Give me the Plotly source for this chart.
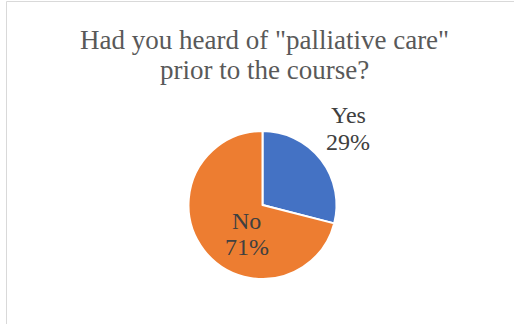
import plotly.graph_objects as go

# Survey responses (percent of respondents)
answers = ["Yes", "No"]
shares = [29, 71]
slice_colors = ["#4472C4", "#ED7D31"]

title_lines = ['Had you heard of "palliative care"', "prior to the course?"]

W, H = 514, 324
SERIF = "Liberation Serif"

fig = go.Figure(
    go.Pie(
        labels=answers,
        values=shares,
        sort=False,
        direction="clockwise",
        rotation=0,
        marker=dict(colors=slice_colors, line=dict(color="white", width=2)),
        textinfo="none",
        showlegend=False,
        hoverinfo="label+percent",
        domain=dict(x=[188.5 / W, 336.5 / W], y=[(H - 279) / H, (H - 131) / H]),
    )
)


def px(x, y):
    """Pixel position (from top-left) to paper coordinates."""
    return x / W, 1 - y / H


annotations = []

# Chart title, one annotation per line
for text, y in zip(title_lines, [40, 70]):
    ax, ay = px(264, y)
    annotations.append(dict(
        text=text, x=ax, y=ay, xref="paper", yref="paper",
        xanchor="center", yanchor="middle", showarrow=False,
        font=dict(family=SERIF, size=27, color="#595959"),
    ))

# Data labels: category name above its share
label_centres = [(348, 115, 142), (246.5, 221, 247)]
for name, share, (cx, y_name, y_pct) in zip(answers, shares, label_centres):
    for text, y in [(name, y_name), (f"{share}%", y_pct)]:
        ax, ay = px(cx, y)
        annotations.append(dict(
            text=text, x=ax, y=ay, xref="paper", yref="paper",
            xanchor="center", yanchor="middle", showarrow=False,
            font=dict(family=SERIF, size=24, color="#404040"),
        ))

fig.update_layout(
    width=W,
    height=H,
    margin=dict(l=0, r=0, t=0, b=0),
    paper_bgcolor="white",
    plot_bgcolor="white",
    annotations=annotations,
    shapes=[
        dict(
            type="rect",
            xref="paper",
            yref="paper",
            x0=6.5 / W,
            x1=1.05,
            y0=-0.05,
            y1=1 - 1.5 / H,
            line=dict(color="#D9D9D9", width=1),
            fillcolor="rgba(0,0,0,0)",
        )
    ],
)

fig.write_html("out.html")
